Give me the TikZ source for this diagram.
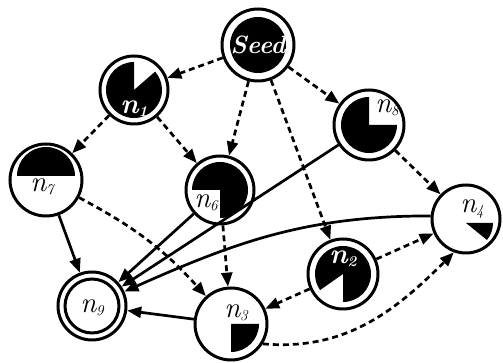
\documentclass[tikz,border=0pt]{standalone}
\usetikzlibrary{arrows.meta}
\newcommand\nlab[1]{n\raisebox{-3pt}{\fontsize{15}{15}\selectfont #1}}
\begin{document}
\begin{tikzpicture}[x=1pt,y=1pt,
  nd/.style={circle, draw, line width=3pt, minimum size=68pt, inner sep=0pt},
  lbl/.style={font=\rmfamily\itshape\fontsize{29}{29}\selectfont, inner sep=0pt},
  wlbl/.style={font=\rmfamily\bfseries\itshape\fontsize{28}{28}\selectfont, text=white, inner sep=0pt},
  ar/.style={-{Triangle[length=14pt,width=11pt]}, line width=2.7pt},
  da/.style={ar, dash pattern=on 6pt off 4pt},
]
\useasboundingbox (0,0) rectangle (503,363);
% nodes
\node[nd, minimum size=72pt] (Seed) at (258,318) {};
\node[nd] (n1) at (134,273) {};
\node[nd, minimum size=72pt] (n7) at (46,183) {};
\node[nd] (n6) at (220,173) {};
\node[nd, minimum size=70pt] (n8) at (369,238) {};
\node[nd] (n4) at (466,144) {};
\node[nd, minimum size=70pt] (n2) at (343,89) {};
\node[nd, minimum size=72pt] (n3) at (231,39) {};
\node[nd] (n9) at (92,57) {};
% contents
\fill (Seed.center) circle (28pt);
\fill (n1.center) -- ++(90:28pt) arc[start angle=90,end angle=401,radius=28pt] -- cycle;
\fill ([yshift=4pt]n7.center) -- ++(0:29pt) arc[start angle=0,end angle=180,radius=29pt] -- cycle;
\fill (n6.center) -- ++(-90:28pt) arc[start angle=-90,end angle=180,radius=28pt] -- cycle;
\fill (n8.center) -- ++(90:28pt) arc[start angle=90,end angle=360,radius=28pt] -- cycle;
\fill ([yshift=-4pt]n4.center) -- ++(-39:27pt) arc[start angle=-39,end angle=0,radius=27pt] -- cycle;
\fill (n2.center) -- ++(-90:28pt) arc[start angle=-90,end angle=215,radius=28pt] -- cycle;
\fill (n3.center) -- ++(-90:28pt) arc[start angle=-90,end angle=0,radius=28pt] -- cycle;
\draw[line width=3pt] (n9.center) circle (27pt);
% labels
\node[font=\rmfamily\bfseries\itshape\fontsize{25}{25}\selectfont, text=white, inner sep=0pt] (lSeed) at (Seed.center) {Seed};
\node[wlbl] (l1) at ([yshift=-19pt]n1.center) {\nlab{1}};
\node[lbl] (l7) at ([xshift=-4pt,yshift=-7pt]n7.center) {\nlab{7}};
\node[lbl] (l6) at ([xshift=-14pt,yshift=-13pt]n6.center) {\nlab{6}};
\node[lbl] (l8) at ([xshift=18pt,yshift=17pt]n8.center) {\nlab{8}};
\node[lbl] (l4) at ([xshift=6pt,yshift=10pt]n4.center) {\nlab{4}};
\node[wlbl] (l2) at ([yshift=15pt]n2.center) {\nlab{2}};
\node[lbl] (l3) at ([xshift=5pt,yshift=11pt]n3.center) {\nlab{3}};
\node[lbl] (l9) at ([yshift=-2pt]n9.center) {\nlab{9}};
% dashed edges
\draw[da] (Seed) -- (n1);
\draw[da] (Seed) -- (n6);
\draw[da] (Seed) -- (n2);
\draw[da] (Seed) -- (n8);
\draw[da] (n1) -- (n7);
\draw[da] (n1) -- (n6);
\draw[da] (n8) -- (n4);
\draw[da] (n6) -- (n3);
\draw[da] (n7) to[out=-28,in=132] (n3);
\draw[da] (n2) -- (n3);
\draw[da] (n2) -- (n4);
\draw[da] (n3.-32) to[out=-5,in=-135] (n4.-110);
% solid edges
\draw[ar] (n7) -- (n9);
\draw[ar] (n6) -- (n9);
\draw[ar] (n8) -- (n9);
\draw[ar] (n4.175) to[out=180,in=24] (n9);
\draw[ar] (n3) -- (n9);
\end{tikzpicture}
\end{document}
